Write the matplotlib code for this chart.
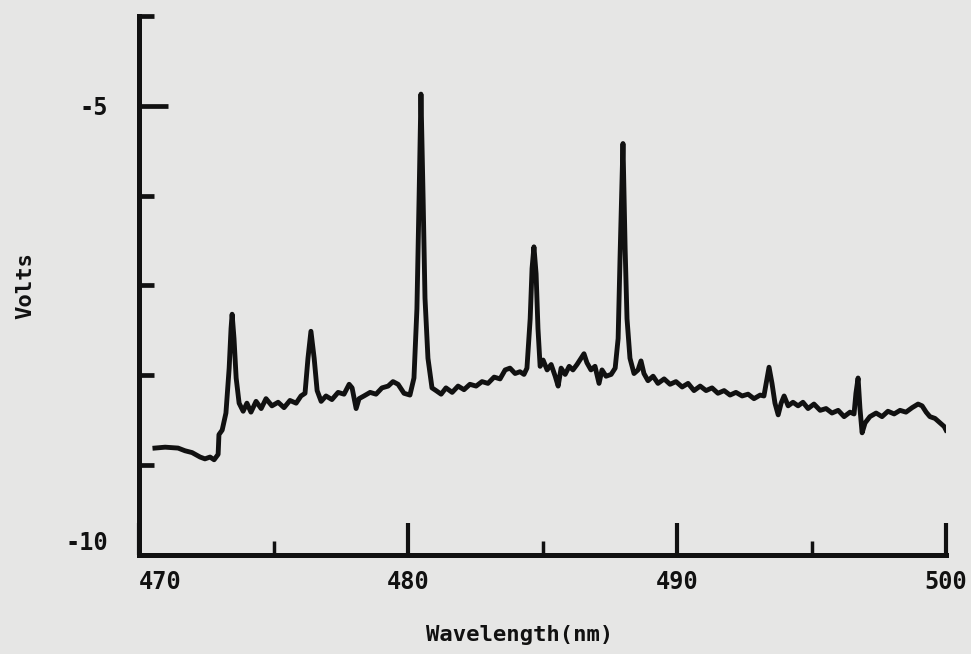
import matplotlib.pyplot as plt
from matplotlib.ticker import NullFormatter

# spectrum trace (wavelength in nm, signal in volts)
wavelength = [
    470.59, 470.97, 471.45, 471.71, 471.97, 472.27, 472.45, 472.64, 472.79, 472.94,
    472.97, 473.09, 473.23, 473.35, 473.42, 473.46, 473.53, 473.61, 473.72, 473.87,
    474.01, 474.16, 474.35, 474.54, 474.72, 474.94, 475.17, 475.39, 475.61, 475.84,
    476.02, 476.17, 476.28, 476.39, 476.51, 476.62, 476.77, 476.95, 477.17, 477.40,
    477.62, 477.81, 477.92, 478.07, 478.18, 478.36, 478.59, 478.81, 479.03, 479.26,
    479.44, 479.63, 479.85, 480.07, 480.22, 480.33, 480.41, 480.48, 480.56, 480.63,
    480.74, 480.89, 481.04, 481.23, 481.41, 481.64, 481.86, 482.08, 482.30, 482.53,
    482.75, 482.97, 483.20, 483.42, 483.61, 483.79, 483.98, 484.16, 484.31, 484.42,
    484.54, 484.61, 484.68, 484.76, 484.83, 484.91, 485.02, 485.17, 485.32, 485.47,
    485.58, 485.69, 485.84, 485.99, 486.13, 486.28, 486.43, 486.54, 486.65, 486.80,
    486.95, 487.10, 487.21, 487.36, 487.55, 487.70, 487.81, 487.88, 487.99, 488.07,
    488.14, 488.25, 488.40, 488.55, 488.66, 488.77, 488.92, 489.11, 489.29, 489.52,
    489.74, 489.96, 490.19, 490.41, 490.63, 490.86, 491.08, 491.30, 491.52, 491.75,
    491.97, 492.19, 492.42, 492.64, 492.86, 493.09, 493.23, 493.35, 493.42, 493.53,
    493.64, 493.76, 493.87, 493.98, 494.13, 494.31, 494.50, 494.68, 494.87, 495.09,
    495.32, 495.54, 495.76, 495.99, 496.21, 496.43, 496.58, 496.65, 496.73, 496.80,
    496.88, 496.99, 497.17, 497.40, 497.62, 497.84, 498.07, 498.29, 498.51, 498.74,
    498.96, 499.11, 499.26, 499.40, 499.59, 499.78, 499.93, 500.00,
]
volts = [
    -8.81, -8.80, -8.81, -8.84, -8.86, -8.91, -8.93, -8.91, -8.94, -8.88,
    -8.66, -8.61, -8.42, -7.92, -7.48, -7.32, -7.59, -8.03, -8.31, -8.40,
    -8.31, -8.41, -8.29, -8.37, -8.26, -8.34, -8.30, -8.36, -8.28, -8.31,
    -8.23, -8.20, -7.81, -7.51, -7.81, -8.17, -8.29, -8.23, -8.27, -8.19,
    -8.21, -8.10, -8.14, -8.37, -8.26, -8.23, -8.19, -8.21, -8.14, -8.12,
    -8.07, -8.10, -8.20, -8.22, -8.03, -7.26, -6.03, -4.87, -6.03, -7.14,
    -7.81, -8.14, -8.17, -8.21, -8.14, -8.19, -8.12, -8.16, -8.10, -8.12,
    -8.07, -8.09, -8.02, -8.04, -7.94, -7.92, -7.98, -7.96, -7.99, -7.92,
    -7.37, -6.81, -6.57, -6.87, -7.48, -7.90, -7.83, -7.94, -7.88, -8.01,
    -8.12, -7.92, -7.99, -7.90, -7.94, -7.88, -7.81, -7.76, -7.86, -7.94,
    -7.90, -8.09, -7.94, -8.01, -7.99, -7.92, -7.59, -6.70, -5.42, -6.59,
    -7.37, -7.81, -7.98, -7.94, -7.84, -7.98, -8.06, -8.01, -8.09, -8.04,
    -8.10, -8.07, -8.13, -8.09, -8.17, -8.12, -8.17, -8.14, -8.20, -8.17,
    -8.22, -8.19, -8.23, -8.21, -8.26, -8.22, -8.23, -8.03, -7.91, -8.09,
    -8.31, -8.44, -8.31, -8.23, -8.34, -8.30, -8.34, -8.30, -8.37, -8.32,
    -8.39, -8.37, -8.42, -8.39, -8.46, -8.41, -8.43, -8.20, -8.03, -8.37,
    -8.64, -8.53, -8.46, -8.42, -8.46, -8.40, -8.43, -8.39, -8.41, -8.36,
    -8.32, -8.34, -8.41, -8.46, -8.48, -8.53, -8.57, -8.61,
]

x_major = [470, 480, 490, 500]
x_minor = [475, 485, 495]
y_major = [-10, -5]
y_minor = [-9, -8, -7, -6, -4]

paper = '#e6e6e5'
ink = '#111111'
font = ['DejaVu Sans Mono']

fig = plt.figure(figsize=(9.71, 6.54), dpi=100, facecolor=paper)
ax = fig.add_axes([0.1432, 0.1514, 0.8311, 0.8242], facecolor=paper)

ax.plot(wavelength, volts, color=ink, lw=3.5, solid_joinstyle='round')

ax.set_xlim(470, 500)
ax.set_ylim(-10, -4)

for side in ['top', 'right']:
    ax.spines[side].set_visible(False)
for side in ['left', 'bottom']:
    ax.spines[side].set_linewidth(3.6)
    ax.spines[side].set_color(ink)
    ax.spines[side].set_capstyle('projecting')

ax.set_xticks(x_major)
ax.set_xticklabels([str(v) for v in x_major], family=font,
                   fontweight='bold', fontsize=17)
ax.set_xticks(x_minor, minor=True)
ax.set_yticks(y_major)
ax.set_yticklabels([str(v) for v in y_major], family=font,
                   fontweight='bold', fontsize=17)
ax.set_yticks(y_minor, minor=True)
ax.yaxis.set_minor_formatter(NullFormatter())
ax.xaxis.set_minor_formatter(NullFormatter())

ax.tick_params(axis='x', which='major', direction='in', length=23, width=3,
               pad=11, colors=ink)
ax.tick_params(axis='x', which='minor', direction='in', length=10, width=2.5,
               colors=ink)
ax.tick_params(axis='y', which='major', direction='in', length=21, width=3.4,
               pad=22, colors=ink)
ax.tick_params(axis='y', which='minor', direction='in', length=11, width=3.4,
               colors=ink)

ax.get_xticklabels()[0].set_horizontalalignment('left')
ax.get_yticklabels()[0].set_verticalalignment('bottom')

ax.set_xlabel('Wavelength(nm)', family=font, fontweight='bold', fontsize=16,
              color=ink)
ax.xaxis.set_label_coords(0.472, -0.13)
ax.set_ylabel('Volts', family=font, fontweight='bold', fontsize=16,
              color=ink)
ax.yaxis.set_label_coords(-0.129, 0.5)

fig.savefig('out.png', dpi=100, facecolor=paper)
